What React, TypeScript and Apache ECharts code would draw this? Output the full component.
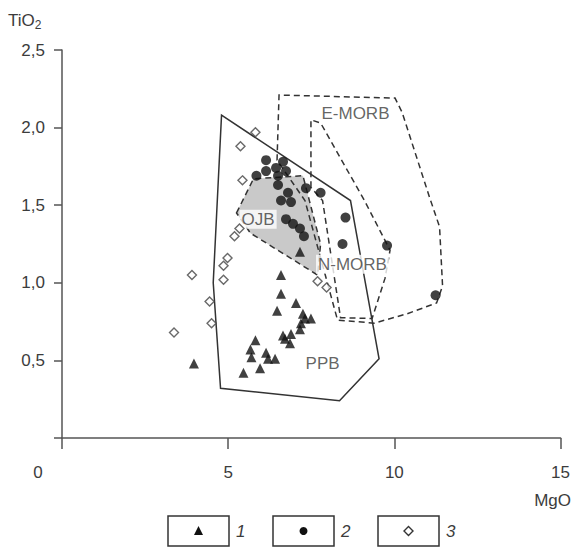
import React, { useEffect, useRef } from "react";
import * as echarts from "echarts";

// Series 1 (triangles): [MgO, TiO2]
const series1: number[][] = [
  [6.59, 1.05], [6.59, 0.93], [6.47, 0.82], [7.04, 0.87], [7.25, 0.8], [7.31, 0.77],
  [7.49, 0.77], [7.16, 0.7], [7.19, 0.74], [6.65, 0.66], [6.89, 0.67], [6.86, 0.61],
  [6.71, 0.64], [5.82, 0.63], [5.67, 0.57], [5.7, 0.52], [6.14, 0.55], [6.2, 0.51],
  [6.41, 0.51], [5.96, 0.45], [5.46, 0.42], [3.97, 0.48], [7.16, 1.2],
];
// Series 2 (filled circles)
const series2: number[][] = [
  [6.14, 1.79], [6.65, 1.78], [6.14, 1.72], [5.85, 1.69], [6.44, 1.74], [6.5, 1.69],
  [6.74, 1.72], [6.5, 1.63], [6.8, 1.58], [6.59, 1.53], [6.89, 1.52], [7.34, 1.61],
  [7.78, 1.58], [8.53, 1.42], [8.44, 1.25], [9.78, 1.24], [11.24, 0.92],
  [6.74, 1.41], [6.95, 1.38], [7.16, 1.35], [7.28, 1.3],
];
// Series 3 (open diamonds)
const series3: number[][] = [
  [5.82, 1.97], [5.37, 1.88], [5.43, 1.66], [5.34, 1.35], [5.19, 1.3], [4.98, 1.16],
  [4.86, 1.11], [4.86, 1.02], [3.91, 1.05], [4.44, 0.88], [4.5, 0.74], [3.37, 0.68],
  [7.69, 1.01], [7.96, 0.97],
];

// Fields
const fieldPPB: number[][] = [
  [4.8, 2.08], [8.68, 1.53], [9.54, 0.51], [8.35, 0.24], [4.77, 0.32], [4.55, 1.0],
];
const fieldOJB: number[][] = [
  [5.25, 1.45], [5.76, 1.67], [7.25, 1.69], [7.78, 1.25], [7.69, 1.05], [5.67, 1.32],
];
const fieldEMORB: number[][] = [
  [6.47, 1.79], [6.53, 2.21], [10.02, 2.19], [10.23, 2.1], [11.06, 1.55], [11.36, 1.36],
  [11.45, 0.98], [11.27, 0.87], [10.38, 0.8], [9.39, 0.74], [8.29, 0.76], [7.31, 1.53],
];
const fieldNMORB: number[][] = [
  [7.49, 1.615], [7.49, 2.05], [7.78, 2.03], [9.1, 1.53], [9.87, 1.21], [9.72, 1.03],
  [9.33, 0.77], [8.38, 0.775], [7.84, 1.53],
];

const fieldLabels: (number | string)[][] = [
  [8.83, 2.09, "E-MORB"],
  [5.9, 1.41, "OJB"],
  [8.74, 1.12, "N-MORB"],
  [7.84, 0.48, "PPB"],
];

const xTicks = [0, 5, 10, 15];
const yTicks = [0, 0.5, 1, 1.5, 2, 2.5];
const legendNames = ["1", "2", "3"];

const FONT = "'Liberation Sans', Arial, sans-serif";
const TXT = "#3c3c3c";
const LINE = "#333";

function polySeries(points: number[][], dashed: boolean, fill: string, z: number) {
  return {
    type: "custom",
    z,
    silent: true,
    data: [0],
    renderItem: (_p: any, api: any) => ({
      type: "polygon",
      shape: { points: points.map((pt) => api.coord(pt)) },
      style: {
        fill,
        stroke: LINE,
        lineWidth: 1.5,
        lineDash: dashed ? [6, 4] : null,
      },
    }),
  };
}

export default function App() {
  const ref = useRef<HTMLDivElement>(null);
  useEffect(() => {
    if (!ref.current) return;
    const chart = echarts.init(ref.current, undefined, { renderer: "svg" });
    const legendBoxes = [168, 273, 378];
    const cy = 531;
    const legendGraphics: any[] = [];
    legendBoxes.forEach((bx, i) => {
      legendGraphics.push({
        type: "rect",
        shape: { x: bx, y: 516, width: 61, height: 30 },
        style: { fill: "#fff", stroke: LINE, lineWidth: 1.5 },
      });
      const cx = bx + 30.5;
      if (i === 0) {
        legendGraphics.push({
          type: "polygon",
          shape: { points: [[cx, cy - 5], [cx - 4.5, cy + 4], [cx + 4.5, cy + 4]] },
          style: { fill: "#111" },
        });
      } else if (i === 1) {
        legendGraphics.push({ type: "circle", shape: { cx, cy, r: 4 }, style: { fill: "#111" } });
      } else {
        legendGraphics.push({
          type: "polygon",
          shape: { points: [[cx, cy - 4.5], [cx + 4.5, cy], [cx, cy + 4.5], [cx - 4.5, cy]] },
          style: { fill: "#fff", stroke: LINE, lineWidth: 1.4 },
        });
      }
      legendGraphics.push({
        type: "text",
        x: bx + 68,
        y: cy,
        style: {
          text: legendNames[i],
          font: `italic 17px ${FONT}`,
          fill: TXT,
          textVerticalAlign: "middle",
        },
      });
    });

    chart.setOption({
      animation: false,
      backgroundColor: "#fff",
      grid: { left: 62, right: 8, top: 50, bottom: 110 },
      xAxis: {
        type: "value",
        min: xTicks[0],
        max: xTicks[xTicks.length - 1],
        interval: 5,
        splitLine: { show: false },
        axisLine: { show: true, onZero: false, lineStyle: { color: "#555", width: 1.5 } },
        axisTick: { show: true, inside: false, length: 11, lineStyle: { color: "#555", width: 1.5 } },
        axisLabel: {
          margin: 26,
          fontSize: 17,
          fontFamily: FONT,
          color: TXT,
          formatter: (v: number) => (v === 0 ? "" : String(v)),
        },
      },
      yAxis: {
        type: "value",
        min: yTicks[0],
        max: yTicks[yTicks.length - 1],
        interval: 0.5,
        splitLine: { show: false },
        axisLine: { show: true, onZero: false, lineStyle: { color: "#555", width: 1.5 } },
        axisTick: { show: true, inside: false, length: 8, lineStyle: { color: "#555", width: 1.5 } },
        axisLabel: {
          margin: 17,
          fontSize: 17,
          fontFamily: FONT,
          color: TXT,
          formatter: (v: number) => (v === 0 ? "" : v.toFixed(1).replace(".", ",")),
        },
      },
      graphic: [
        {
          type: "text",
          x: 8,
          y: 9,
          style: {
            text: "{a|TiO}{b|2}",
            rich: {
              a: { font: `17px ${FONT}`, fill: TXT },
              b: { font: `12px ${FONT}`, fill: TXT, padding: [10, 0, 0, 0] },
            },
          },
        },
        {
          type: "text",
          x: 38,
          y: 472,
          style: { text: "0", font: `17px ${FONT}`, fill: TXT, textAlign: "center", textVerticalAlign: "middle" },
        },
        {
          type: "text",
          x: 571,
          y: 500,
          style: { text: "MgO", font: `17px ${FONT}`, fill: TXT, textAlign: "right", textVerticalAlign: "middle" },
        },
        ...legendGraphics,
      ],
      series: [
        polySeries(fieldOJB, true, "#c9c9c9", 1),
        polySeries(fieldEMORB, true, "none", 2),
        polySeries(fieldNMORB, true, "none", 2),
        polySeries(fieldPPB, false, "none", 2),
        {
          type: "scatter",
          z: 5,
          data: series1,
          symbol: "triangle",
          symbolSize: 10,
          itemStyle: { color: "#111" },
        },
        {
          type: "scatter",
          z: 5,
          data: series2,
          symbol: "circle",
          symbolSize: 10,
          itemStyle: { color: "#111" },
        },
        {
          type: "scatter",
          z: 5,
          data: series3,
          symbol: "diamond",
          symbolSize: 9,
          itemStyle: { color: "#fff", borderColor: "#444", borderWidth: 1.4 },
        },
        {
          type: "scatter",
          z: 4,
          data: fieldLabels,
          symbolSize: 0,
          label: {
            show: true,
            position: "inside",
            formatter: (p: any) => p.data[2],
            fontSize: 17,
            fontFamily: FONT,
            color: TXT,
            backgroundColor: "#fff",
            padding: [1, 2],
          },
        },
      ],
    });
    return () => chart.dispose();
  }, []);
  return (
    <div
      ref={ref}
      style={{ position: "absolute", left: 0, top: 0, width: 573, height: 548 }}
    />
  );
}
